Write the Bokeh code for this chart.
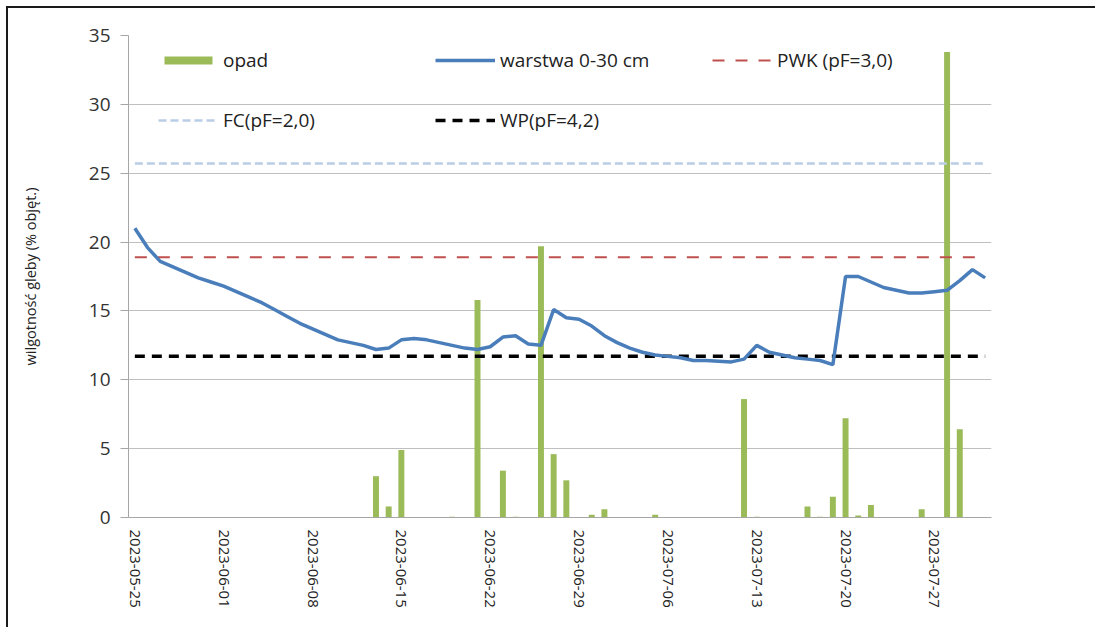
import pandas as pd
from bokeh.plotting import figure
from bokeh.models import Range1d, FixedTicker, DatetimeTickFormatter, Legend, LegendItem
from bokeh.embed import file_html
from bokeh.resources import INLINE

# --- data -------------------------------------------------------------
dates = pd.date_range("2023-05-25", "2023-07-31", freq="D")
tick_dates = ["2023-05-25", "2023-06-01", "2023-06-08", "2023-06-15", "2023-06-22",
              "2023-06-29", "2023-07-06", "2023-07-13", "2023-07-20", "2023-07-27"]

opad = [0, 0, 0, 0, 0, 0, 0, 0, 0, 0,
        0, 0, 0, 0, 0, 0, 0, 0, 0, 3.0,
        0.8, 4.9, 0, 0, 0, 0.05, 0, 15.8, 0, 3.4,
        0.05, 0, 19.7, 4.6, 2.7, 0, 0.2, 0.6, 0, 0,
        0, 0.2, 0, 0, 0, 0, 0, 0, 8.6, 0.05,
        0, 0, 0, 0.8, 0.05, 1.5, 7.2, 0.15, 0.9, 0,
        0, 0, 0.6, 0, 33.8, 6.4, 0, 0]

warstwa = [21.0, 19.6, 18.6, 18.2, 17.8, 17.4, 17.1, 16.8, 16.4, 16.0,
           15.6, 15.1, 14.6, 14.1, 13.7, 13.3, 12.9, 12.7, 12.5, 12.2,
           12.3, 12.9, 13.0, 12.9, 12.7, 12.5, 12.3, 12.2, 12.4, 13.1,
           13.2, 12.6, 12.5, 15.1, 14.5, 14.4, 13.9, 13.2, 12.7, 12.3,
           12.0, 11.8, 11.7, 11.6, 11.4, 11.4, 11.35, 11.3, 11.5, 12.5,
           12.0, 11.8, 11.6, 11.5, 11.4, 11.1, 17.5, 17.5, 17.1, 16.7,
           16.5, 16.3, 16.3, 16.4, 16.5, 17.2, 18.0, 17.4]

pwk_value = 18.9
fc_value = 25.7
wp_value = 11.7

labels = ["opad", "warstwa 0-30 cm", "PWK (pF=3,0)", "FC(pF=2,0)", "WP(pF=4,2)"]

# --- figure -----------------------------------------------------------
day = pd.Timedelta(days=1)
FONT = "Open Sans"

p = figure(
    output_backend="svg", toolbar_location=None,
    x_axis_type="datetime",
    frame_width=863, frame_height=482,
    min_border_left=120, min_border_right=104,
    min_border_top=27, min_border_bottom=110,
    x_range=Range1d(dates[0] - day / 2, dates[-1] + day / 2),
    y_range=Range1d(0, 35),
    background_fill_color="white", border_fill_color="white",
)
p.styles = {"margin-left": "6px", "margin-top": "6px",
            "border-top": "2px solid #1a1a1a", "border-left": "2px solid #1a1a1a"}
p.outline_line_color = None

# bars
bars = p.vbar(x=dates, top=opad, width=day * 0.47, color="#9bbb59", line_color=None)

# reference lines
x_ends = [dates[0], dates[-1]]
fc_r = p.line(x_ends, [fc_value] * 2, line_color="#b9cde5", line_width=2.5, line_dash="8 4")
pwk_r = p.line(x_ends, [pwk_value] * 2, line_color="#c0504d", line_width=2, line_dash="12 11")
wp_r = p.line(x_ends, [wp_value] * 2, line_color="#000000", line_width=3.5, line_dash="10 7")

# soil moisture line
line_r = p.line(dates, warstwa, line_color="#4a7ebb", line_width=3.5)

# axes
p.yaxis.ticker = FixedTicker(ticks=[0, 5, 10, 15, 20, 25, 30, 35])
p.yaxis.axis_label = "wilgotność gleby (% objęt.)"
p.yaxis.axis_label_text_font = FONT
p.yaxis.axis_label_text_font_size = "14.5px"
p.yaxis.axis_label_text_font_style = "normal"
p.yaxis.axis_label_text_color = "#222222"
p.yaxis.axis_label_standoff = 46
p.yaxis.major_label_text_font = FONT
p.yaxis.major_label_text_font_size = "19px"
p.yaxis.major_label_text_color = "#333333"
p.yaxis.major_label_standoff = 10
p.yaxis.major_tick_out = 8
p.yaxis.major_tick_in = 0
p.yaxis.minor_tick_out = 0
p.yaxis.minor_tick_in = 0
p.yaxis.major_tick_line_color = "#a6a6a6"
p.yaxis.axis_line_color = "#a6a6a6"

tick_ms = [pd.Timestamp(t).value // 10**6 for t in tick_dates]
p.xaxis.ticker = FixedTicker(ticks=tick_ms)
fmt = "%Y-%m-%d"
p.xaxis.formatter = DatetimeTickFormatter(days=fmt, months=fmt, years=fmt, hours=fmt,
                                          hourmin=fmt, minutes=fmt, seconds=fmt,
                                          milliseconds=fmt, microseconds=fmt, minsec=fmt)
p.xaxis.major_label_orientation = "vertical"
p.xaxis.major_label_text_font = FONT
p.xaxis.major_label_text_font_size = "15px"
p.xaxis.major_label_text_color = "#222222"
p.xaxis.major_label_standoff = 12
p.xaxis.major_tick_out = 0
p.xaxis.major_tick_in = 0
p.xaxis.minor_tick_out = 0
p.xaxis.minor_tick_in = 0
p.xaxis.axis_line_color = "#a6a6a6"

p.xgrid.grid_line_color = None
p.ygrid.grid_line_color = "#bfbfbf"
p.ygrid.ticker = FixedTicker(ticks=[5, 10, 15, 20, 25, 30, 35])


def make_legend(items, loc):
    lg = Legend(items=items, location=loc, orientation="horizontal",
                glyph_width=60, glyph_height=10, label_standoff=5,
                label_width=212, spacing=0, padding=0, margin=0,
                label_text_font=FONT, label_text_font_size="19px",
                label_text_color="#222222", label_height=20,
                background_fill_alpha=0, border_line_alpha=0)
    return lg


leg1 = make_legend([LegendItem(label=labels[0], renderers=[bars]),
                    LegendItem(label=labels[1], renderers=[line_r]),
                    LegendItem(label=labels[2], renderers=[pwk_r])], (30, 444))
leg2 = make_legend([LegendItem(label=labels[3], renderers=[fc_r]),
                    LegendItem(label=labels[4], renderers=[wp_r])], (30, 384))
p.add_layout(leg1, "center")
p.add_layout(leg2, "center")

open("out.html", "w").write(file_html(p, INLINE))
